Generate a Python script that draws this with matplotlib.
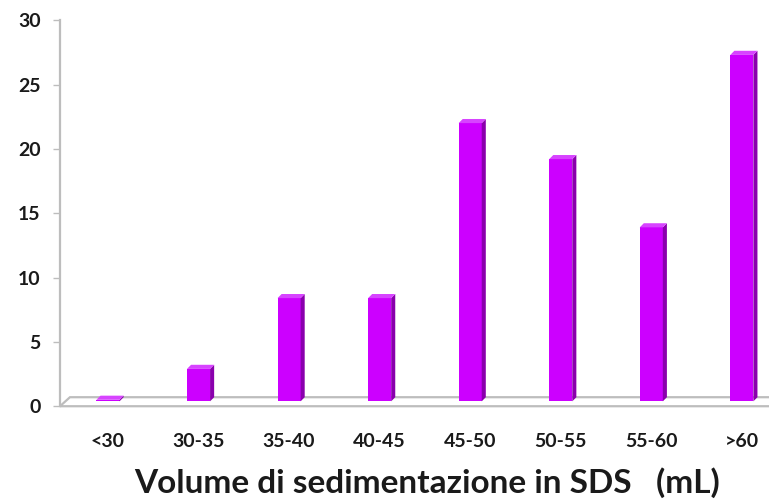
import numpy as np
import matplotlib
matplotlib.use("Agg")
import matplotlib.pyplot as plt
from matplotlib.patches import Polygon

# data (percent of samples per class)
categories = ['<30', '30-35', '35-40', '40-45', '45-50', '50-55', '55-60', '>60']
values = [0.5, 2.9, 8.4, 8.4, 22.0, 19.2, 13.9, 27.3]
y_ticks = [0, 5, 10, 15, 20, 25, 30]
x_title = 'Volume di sedimentazione in SDS   (mL)'

plt.rcParams['font.family'] = ['Lato', 'DejaVu Sans']

front = '#CC00FF'
side = '#8A00AD'
top = '#D744FF'
grey = '#BDBDBD'

fig = plt.figure(figsize=(7.69, 5.04), dpi=100)
ax = fig.add_axes([0.078, 0.194, 0.922, 0.766])
ax.set_xlim(-0.53, 7.30)
ax.set_ylim(0, 30)

x = np.arange(len(categories))
w = 0.255         # front face width
dx, dy = 0.045, 0.32   # fake depth of the columns
base = 0.38       # columns stand in the middle of the floor

# floor
fx0, fx1 = -0.53, 7.4
floor = Polygon([(fx0, 0), (fx1, 0), (fx1 + 0.11, 0.7), (fx0 + 0.11, 0.7)],
                closed=True, facecolor='white', edgecolor=grey, lw=1.6,
                clip_on=False, zorder=1)
ax.add_patch(floor)

bars = ax.bar(x, np.array(values) - base, bottom=base, width=w,
              color=front, edgecolor='none', zorder=3)
for b in bars:
    x0 = b.get_x()
    x1 = x0 + b.get_width()
    y0 = b.get_y()
    y1 = y0 + b.get_height()
    ax.add_patch(Polygon([(x1, y0), (x1 + dx, y0 + dy), (x1 + dx, y1 + dy), (x1, y1)],
                         closed=True, facecolor=side, edgecolor='none', zorder=3))
    ax.add_patch(Polygon([(x0, y1), (x1, y1), (x1 + dx, y1 + dy), (x0 + dx, y1 + dy)],
                         closed=True, facecolor=top, edgecolor='none', zorder=4))

for s in ['top', 'right', 'bottom']:
    ax.spines[s].set_visible(False)
ax.spines['left'].set_color(grey)
ax.spines['left'].set_linewidth(1.6)

ax.set_yticks(y_ticks)
ax.set_yticklabels([str(t) for t in y_ticks], fontsize=14, fontweight='bold', color='#1a1a1a')
ax.tick_params(axis='y', length=5, width=1, color=grey, pad=9)

ax.set_xticks(x)
ax.set_xticklabels(categories, fontsize=14, fontweight='bold', color='#1a1a1a')
ax.tick_params(axis='x', length=0, pad=19)

ax.set_xlabel(x_title, fontsize=24, fontweight='bold', color='#1a1a1a')
ax.xaxis.set_label_coords(0.518, -0.157)

fig.savefig('out.png', dpi=100)
